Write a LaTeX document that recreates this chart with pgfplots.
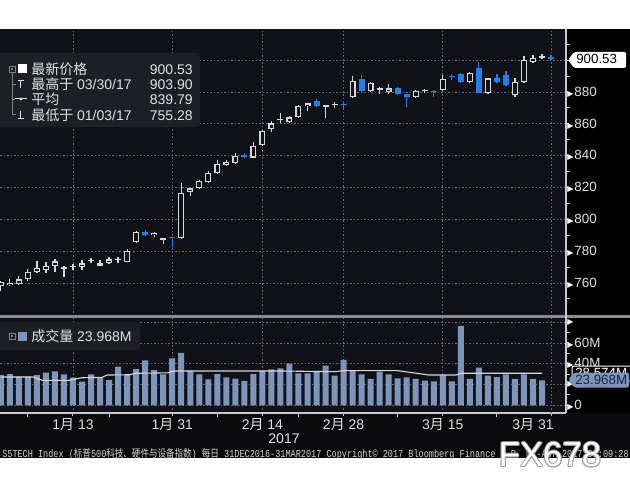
\documentclass[border=0pt]{standalone}
\usepackage{fontspec}
\setmainfont{Liberation Sans}
\newfontfamily\cjk{Noto Sans CJK SC}
\newfontfamily\dejavu{DejaVu Sans}
\newfontfamily\mono{Liberation Mono}
\usepackage{graphicx}
\usepackage{pgfplots}
\pgfplotsset{compat=1.18}
\usepackage{pgfplotstable}
\newlength\pxu \setlength\pxu{0.75pt}
\definecolor{panelbg}{RGB}{17,18,23}
\definecolor{bottombg}{RGB}{10,10,12}
\definecolor{legbg}{RGB}{30,31,36}
\definecolor{candleup}{RGB}{215,215,215}
\definecolor{candledn}{RGB}{30,128,232}
\definecolor{volc}{RGB}{126,149,187}
\definecolor{gridc}{RGB}{105,105,110}
\definecolor{txt}{RGB}{225,225,225}
\definecolor{sepc}{RGB}{140,140,145}
\definecolor{axisc}{RGB}{200,200,200}
\definecolor{maline}{RGB}{215,215,215}
\definecolor{navy}{RGB}{20,35,65}
\newcommand\tri{{\dejavu\fontsize{6}{6}\selectfont\textcolor{white}{▶}}\hspace{1\pxu}}
\newcommand\lf{\fontsize{10.5}{12}\selectfont}
\pgfplotsset{candle/.style={draw=none, mark=none, forget plot,
  error bars/.cd, y dir=plus, y explicit, error mark=none,
  error bar style={draw=#1, solid}}}

\pgfplotstableread{
k O H L C
0 758.3 761.0 755.28 760.5
1 758.6 762.3 758.0 760.2
2 759.4 764.4 759.0 762.3
3 762.3 769.0 761.5 767.1
4 767.1 774.0 766.5 769.6
5 768.2 773.4 766.5 770.9
6 770.9 774.9 767.1 773.6
7 769.0 770.5 763.6 770.3
8 770.2 772.0 768.5 770.4
9 770.3 774.5 768.2 772.4
10 773.8 775.5 772.5 774.1
11 770.9 774.5 770.5 772.4
12 772.6 776.1 772.0 774.9
13 774.3 776.3 772.3 774.6
14 773.4 781.2 773.0 780.1
15 785.8 793.0 785.0 792.1
17 790.0 792.0 789.0 791.6
18 787.0 788.5 784.5 788.1
20 788.1 823.0 787.5 816.4
21 817.4 820.0 814.5 819.5
22 819.5 825.0 819.0 824.3
23 823.5 830.4 823.0 829.0
24 829.0 837.3 828.5 834.8
25 834.1 837.3 833.5 836.0
26 835.6 841.5 834.6 840.0
28 838.8 848.8 838.5 846.3
29 846.7 856.1 845.8 855.7
30 856.8 861.8 855.1 860.3
31 862.2 866.6 860.3 862.5
32 861.0 864.7 860.4 864.1
33 864.1 872.0 863.5 871.2
34 871.2 873.3 868.3 872.9
36 870.8 872.0 863.5 871.8
37 871.6 873.9 869.8 871.9
39 876.7 890.0 876.0 887.1
41 880.8 886.0 880.3 885.5
42 881.5 883.3 878.7 881.8
43 879.8 885.0 878.7 882.3
46 877.0 881.2 876.5 880.6
47 880.4 881.9 879.2 880.7
49 881.3 890.7 880.8 888.0
52 886.1 892.8 885.8 892.1
54 879.2 889.0 878.7 888.6
57 878.1 888.6 877.0 886.5
58 886.1 902.8 885.5 900.1
59 899.0 903.2 898.0 901.2
60 901.2 903.9 900.5 902.6
}\upc

\pgfplotstableread{
k O H L C
16 792.1 793.3 789.5 790.0
19 788.3 788.6 782.8 788.0
27 840.4 841.9 838.4 839.0
35 874.2 875.6 870.8 871.2
38 872.0 873.5 870.0 871.6
40 888.0 890.7 880.2 880.8
44 882.7 883.3 878.1 878.7
45 878.5 878.8 870.8 877.0
48 880.5 881.0 877.0 880.0
50 889.8 891.1 887.5 889.4
51 891.1 891.7 885.8 886.5
53 894.9 899.0 879.2 879.2
55 888.6 891.1 885.5 886.1
56 890.7 893.0 883.8 884.4
61 902.3 903.5 900.0 900.53
}\dnc

\pgfplotstableread{
k v
0 29.1
1 30.1
2 27.5
3 27.5
4 29.1
5 31.4
6 32.7
7 29.8
8 26.5
9 22.7
10 29.8
11 26.9
12 24.3
13 37.1
14 29.1
15 34.9
16 43.3
17 33.9
18 29.8
19 45.2
20 50.3
21 33.0
22 29.8
23 25.0
24 30.1
25 26.9
26 25.6
27 23.4
28 30.1
29 33.0
30 34.6
31 35.6
32 40.0
33 30.8
34 30.8
35 32.3
36 38.1
37 28.5
38 43.6
39 33.3
40 29.8
41 25.3
42 32.3
43 29.8
44 26.0
45 26.9
46 25.3
47 23.7
48 23.1
49 28.8
50 22.9
51 76.2
52 25.3
53 36.3
54 28.5
55 27.2
56 29.8
57 25.3
58 29.8
59 25.3
60 23.968
}\vol

\begin{document}
\begin{tikzpicture}
\useasboundingbox (0,0) rectangle (630\pxu,490\pxu);
\begin{scope}[x=\pxu,y=-\pxu,shift={(0pt,367.5pt)}]
\fill[white] (0,0) rectangle (630,490);
\fill[bottombg] (0,29) rectangle (630,458);
\fill[panelbg] (0,29) rectangle (566,316);
\fill[panelbg] (0,318) rectangle (566,413);
\fill[black] (566,29) rectangle (630,413);
\end{scope}

% ---------- price panel ----------
\begin{axis}[
  at={(0pt,174\pxu)}, anchor=south west, scale only axis,
  width=566\pxu, height=287\pxu,
  xmin=-0.093, xmax=62.66, ymin=739.3, ymax=919.6,
  axis x line*=bottom, axis y line*=right,
  x axis line style={draw=none},
  y axis line style={draw=axisc, line width=1.5\pxu},
  xtick={8,19,29,38,49,61}, xticklabels={},
  xtick style={draw=none},
  ytick={760,780,800,820,840,860,880,900},
  yticklabels={\tri760,\tri780,\tri800,\tri820,\tri840,\tri860,\tri880,{}},
  minor ytick={750,770,790,810,830,850,870,890,910},
  grid=major,
  major grid style={gridc, dash pattern=on 1.5\pxu off 2\pxu, line width=0.8\pxu},
  tick align=outside, major tick length=3\pxu, minor tick length=4\pxu,
  ytick style={axisc, line width=1\pxu},
  tick label style={font=\fontsize{10}{12}\selectfont, text=txt},
  yticklabel style={inner sep=0pt, xshift=-2\pxu},
]
% wicks
\addplot[candle=candleup, error bar style={line width=1.2\pxu}]
  table[x=k, y=L, y error plus expr=\thisrow{H}-\thisrow{L}] {\upc};
\addplot[candle=candledn, error bar style={line width=1.2\pxu}]
  table[x=k, y=L, y error plus expr=\thisrow{H}-\thisrow{L}] {\dnc};
% up bodies (hollow)
\addplot[candle=candleup, error bar style={line width=6\pxu}]
  table[x=k, y=O, y error plus expr={max(\thisrow{C}-\thisrow{O},0.8)}] {\upc};
\addplot[candle=panelbg, error bar style={line width=3.6\pxu}]
  table[x=k, y expr=\thisrow{O}+0.75, y error plus expr={max(\thisrow{C}-\thisrow{O}-1.5,0)}] {\upc};
% down bodies (filled)
\addplot[candle=candledn, error bar style={line width=6\pxu}]
  table[x=k, y=C, y error plus expr={max(\thisrow{O}-\thisrow{C},0.8)}] {\dnc};
\end{axis}

% ---------- volume panel ----------
\begin{axis}[
  at={(0pt,77\pxu)}, anchor=south west, scale only axis,
  width=566\pxu, height=95\pxu,
  xmin=-0.093, xmax=62.66, ymin=-7.4, ymax=83.94,
  axis x line*=bottom, axis y line*=right,
  x axis line style={draw=axisc, line width=1.5\pxu},
  y axis line style={draw=axisc, line width=1.5\pxu},
  xtick={8,19,29,38,49},
  xticklabels={1{\cjk 月} 13,1{\cjk 月} 31,2{\cjk 月} 14,2{\cjk 月} 28,3{\cjk 月} 15},
  extra x ticks={61}, extra x tick labels={3{\cjk 月} 31},
  extra x tick style={grid=major, xticklabel style={xshift=-18\pxu}},
  minor xtick={3,12,24,33,44,55},
  ytick={0,20,40,60,80},
  yticklabels={\tri0,\tri,\tri40M,\tri60M,\tri},
  minor ytick={10,30,50,70},
  grid=major,
  major grid style={gridc, dash pattern=on 1.5\pxu off 2\pxu, line width=0.8\pxu},
  tick align=outside, major tick length=3\pxu, minor tick length=4\pxu,
  tick style={axisc, line width=1\pxu},
  tick label style={font=\fontsize{10}{12}\selectfont, text=txt},
  yticklabel style={inner sep=0pt, xshift=-2\pxu},
  xticklabel style={font=\lf, inner sep=0pt, yshift=-2\pxu},
]
\addplot[ybar, bar width=6\pxu, fill=volc, draw=none] table[x=k, y=v] {\vol};
\addplot[maline, line width=1.1\pxu, no marks] coordinates {
(0,27.2) (3.6,27.2) (4.6,24.0) (7.5,24.0) (9,26.5) (11.2,26.9) (11.8,29.1)
(14.3,29.4) (15,30.8) (18.5,31.2) (19.2,33.0) (31,33.0) (37,32.3) (38,33.3)
(44,33.3) (47.5,29.1) (50.5,29.1) (51,30.8) (60,30.8)};
\end{axis}

% ---------- decorations ----------
\begin{scope}[x=\pxu,y=-\pxu,shift={(0pt,367.5pt)}]
\fill[sepc] (0,315) rectangle (630,318);
\draw[axisc, line width=1.5\pxu] (566,29) -- (566,413);
% price legend
\fill[legbg, rounded corners=3\pxu] (-3,53) rectangle (200,127);
\draw[gray, line width=0.8\pxu] (9,66) rectangle (15,72);
\fill[gray] (11,68) rectangle (13,70);
\fill[white] (18,64.5) rectangle (27,73.5);
\draw[gray, line width=0.8\pxu] (12,72) -- (12,114.5) -- (16,114.5);
\draw[gray, line width=0.8\pxu] (12,84) -- (16,84);
\draw[gray, line width=0.8\pxu] (12,99) -- (15,99);
\draw[txt, line width=1\pxu] (17.5,80.5) -- (23.5,80.5) (20.5,80.5) -- (20.5,88);
\draw[txt, line width=1\pxu] (15,99) -- (27,99);
\fill[txt] (21,99) circle (1.6);
\draw[txt, line width=1\pxu] (20.5,110.5) -- (20.5,118) (17.5,118) -- (23.5,118);
\begin{scope}[every node/.style={inner sep=0pt, text=txt, font=\lf}]
\node[anchor=base west] at (31,75) {\cjk 最新价格};
\node[anchor=base east] at (193,75) {900.53};
\node[anchor=base west] at (31,90) {{\cjk 最高于} 03/30/17};
\node[anchor=base east] at (193,90) {903.90};
\node[anchor=base west] at (31,105) {\cjk 平均};
\node[anchor=base east] at (193,105) {839.79};
\node[anchor=base west] at (31,120) {{\cjk 最低于} 01/03/17};
\node[anchor=base east] at (193,120) {755.28};
\end{scope}
% volume legend
\fill[legbg, rounded corners=3\pxu] (-3,322) rectangle (140,350);
\draw[gray, line width=0.8\pxu] (9,333) rectangle (15,339);
\fill[gray] (11,335) rectangle (13,337);
\fill[volc] (18,331.5) rectangle (27,340.5);
\node[anchor=base west, inner sep=0pt, text=txt, font=\lf] at (31,341.5) {{\cjk 成交量} 23.968M};
% price tag
\fill[white, rounded corners=1.5\pxu] (568,60) -- (574,52) -- (626,52) -- (626,68) -- (574,68) -- cycle;
\node[anchor=base west, inner sep=0pt, text=black, font=\fontsize{10}{12}\selectfont] at (576,64) {900.53};
% volume tags
\fill[black, draw=white, line width=1\pxu, rounded corners=2\pxu] (572,366) rectangle (634,381);
\node[anchor=base west, inner sep=0pt, text=white, font=\fontsize{10}{12}\selectfont] at (575,377.5) {28.574M};
\fill[volc, rounded corners=2\pxu] (568,380) -- (574,372.5) -- (629,372.5) -- (629,387.5) -- (574,387.5) -- cycle;
\node[anchor=base west, inner sep=0pt, text=navy, font=\fontsize{10}{12}\selectfont] at (575,384.8) {23.968M};
% year and footer
\node[anchor=base, inner sep=0pt, text=txt, font=\lf] at (284,443) {2017};
\node[anchor=base west, inner sep=0pt, text=txt!85!gray] at (2,457.5)
  {\scalebox{0.8}[1]{\fontsize{8.0}{9}\selectfont\mono S5TECH Index ({\cjk 标普}500{\cjk 科技、硬件与设备指数})  {\cjk 每日} 31DEC2016-31MAR2017    Copyright© 2017 Bloomberg Finance L.P.   01-Apr-2017 05:09:28}};
% watermark
\foreach \dx/\dy in {-1/0,1/0,0/-1,0/1,-0.8/-0.8,0.8/0.8,-0.8/0.8,0.8/-0.8}
  \node[inner sep=0pt, text=gray!75, font=\fontsize{26}{26}\selectfont] at (550+\dx,455+\dy) {FX678};
\node[inner sep=0pt, text=white, font=\fontsize{26}{26}\selectfont] at (550,455) {FX678};
\end{scope}
\end{tikzpicture}
\end{document}
